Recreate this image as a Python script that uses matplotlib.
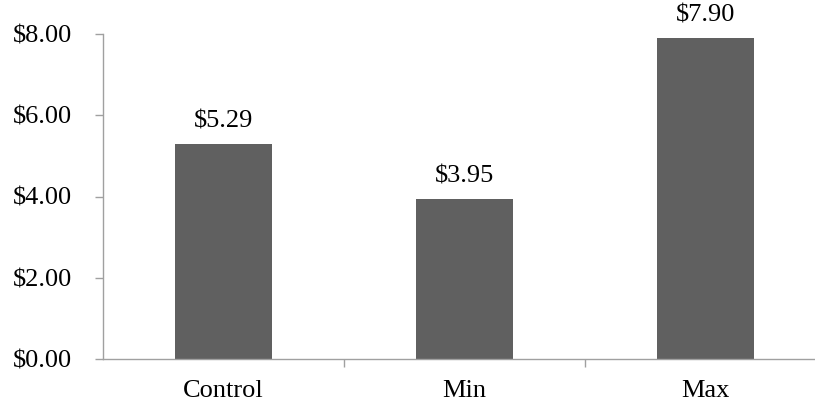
import matplotlib
matplotlib.use("Agg")
import matplotlib.pyplot as plt

categories = ["Control", "Min", "Max"]
values = [5.29, 3.95, 7.90]
yticks = [0, 2, 4, 6, 8]
ytick_labels = ["$0.00", "$2.00", "$4.00", "$6.00", "$8.00"]

plt.rcParams['font.family'] = ['Liberation Serif', 'DejaVu Serif']
fig = plt.figure(figsize=(8.15, 4.05), dpi=100)
W, H = 815, 405
ax = fig.add_axes([103/W, 46/H, 723/W, (359-34)/H])
FS = 19

x = list(range(len(categories)))
ax.bar(x, values, width=0.4, color="#606060", zorder=2)
for xi, v in zip(x, values):
    ax.annotate(f"${v:.2f}", (xi, v), xytext=(0, 8), textcoords="offset points",
                ha="center", va="bottom", fontsize=FS, color="black")

ax.set_xlim(-0.5, len(categories) - 0.5)
ax.set_ylim(0, 8)
ax.set_yticks(yticks)
ax.set_yticklabels(ytick_labels, fontsize=FS)
ax.set_xticks(x)
ax.set_xticklabels(categories, fontsize=FS)
ax.tick_params(axis='x', which='major', length=0, pad=15)
ax.set_xticks([0.5, 1.5], minor=True)
ax.tick_params(axis='x', which='minor', length=6, color="#A0A0A0", width=1)
ax.tick_params(axis='y', length=6, color="#A0A0A0", width=1, pad=16)
for s in ["top", "right"]:
    ax.spines[s].set_visible(False)
for s in ["left", "bottom"]:
    ax.spines[s].set_color("#A0A0A0")
    ax.spines[s].set_linewidth(1)

fig.savefig("out.png", dpi=100)
